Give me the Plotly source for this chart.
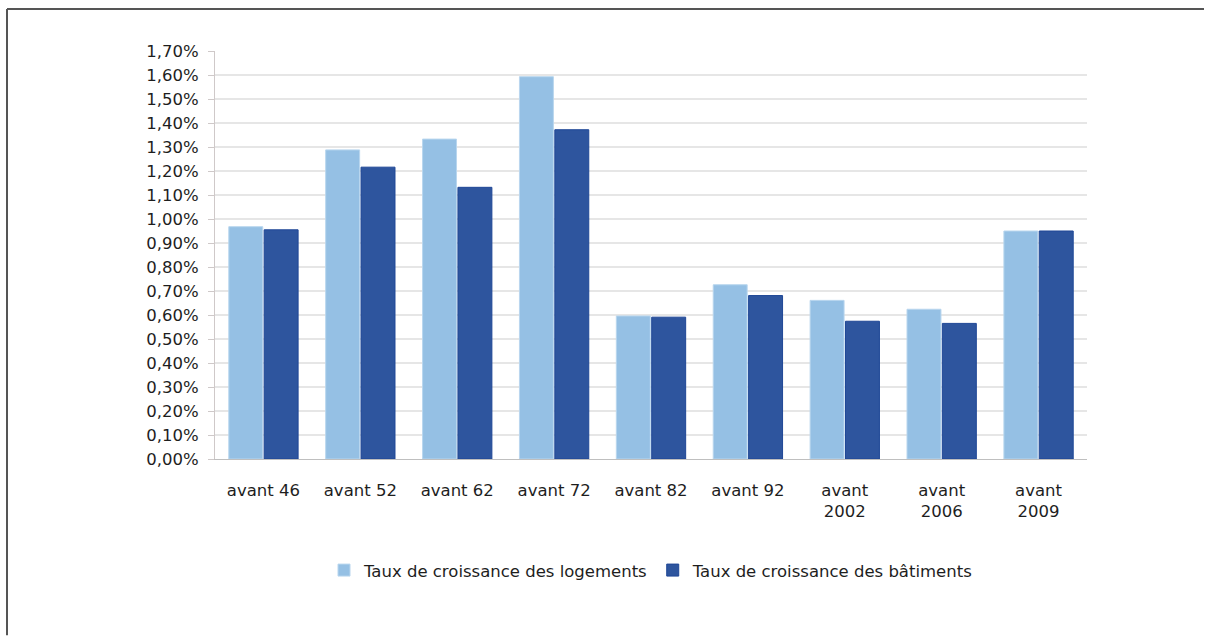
import plotly.graph_objects as go

categories = ["avant 46", "avant 52", "avant 62", "avant 72", "avant 82", "avant 92",
              "avant<br>2002", "avant<br>2006", "avant<br>2009"]
# values in percent
logements = [0.968, 1.288, 1.333, 1.593, 0.596, 0.726, 0.661, 0.624, 0.950]
batiments = [0.955, 1.216, 1.132, 1.372, 0.591, 0.681, 0.574, 0.565, 0.950]
series_names = ["Taux de croissance des logements", "Taux de croissance des bâtiments"]

FONT = "DejaVu Sans"
FS = 16.5
TXT = "#1e1e1e"
L, R, T, B = 215, 119, 51, 176.5
W, H = 1206, 636
pw, ph = W - L - R, H - T - B

fig = go.Figure()
fig.add_trace(go.Bar(x=categories, y=[v / 100 for v in logements], name=series_names[0],
                     marker=dict(color="#95C0E4", line=dict(color="#B9D6EE", width=1))))
fig.add_trace(go.Bar(x=categories, y=[v / 100 for v in batiments], name=series_names[1],
                     marker=dict(color="#2E559E", line=dict(color="#1F4796", width=1))))

def px_x(x):
    return (x - L) / pw

def px_y(y):
    return (H - B - y) / ph

fig.update_layout(
    width=W, height=H,
    margin=dict(l=L, r=R, t=T, b=B, autoexpand=False),
    paper_bgcolor="white", plot_bgcolor="white",
    barmode="group", bargap=0.27, bargroupgap=0.04,
    separators=", ",
    font=dict(family=FONT, size=FS, color=TXT),
    showlegend=True,
    legend=dict(orientation="h", x=0.5, xanchor="center", y=px_y(571), yanchor="middle",
                font=dict(family=FONT, size=FS, color=TXT),
                itemwidth=30, tracegroupgap=0),
    xaxis=dict(showgrid=False, showline=True, linecolor="#BFBFBF", linewidth=1,
               ticks="", tickfont=dict(family=FONT, size=FS, color=TXT),
               ticklabelstandoff=16),
    yaxis=dict(range=[0, 0.017], tickmode="linear", tick0=0, dtick=0.001, tickformat=".2%",
               showgrid=True, gridcolor="#E6E6E6", gridwidth=2,
               showline=True, linecolor="#CFC9C9", linewidth=1,
               ticks="outside", ticklen=6, tickcolor="#CFC9C9",
               tickfont=dict(family=FONT, size=FS, color=TXT),
               ticklabelstandoff=6, zeroline=False),
    shapes=[
        dict(type="line", xref="paper", yref="paper", x0=px_x(7), x1=px_x(1204),
             y0=px_y(9), y1=px_y(9), line=dict(color="#555555", width=2)),
        dict(type="line", xref="paper", yref="paper", x0=px_x(7), x1=px_x(7),
             y0=px_y(9), y1=px_y(636), line=dict(color="#555555", width=2)),
    ],
)

fig.write_html("out.html", config={"displayModeBar": False},
               post_script="document.body.style.margin='0';document.body.style.overflow='hidden';")
